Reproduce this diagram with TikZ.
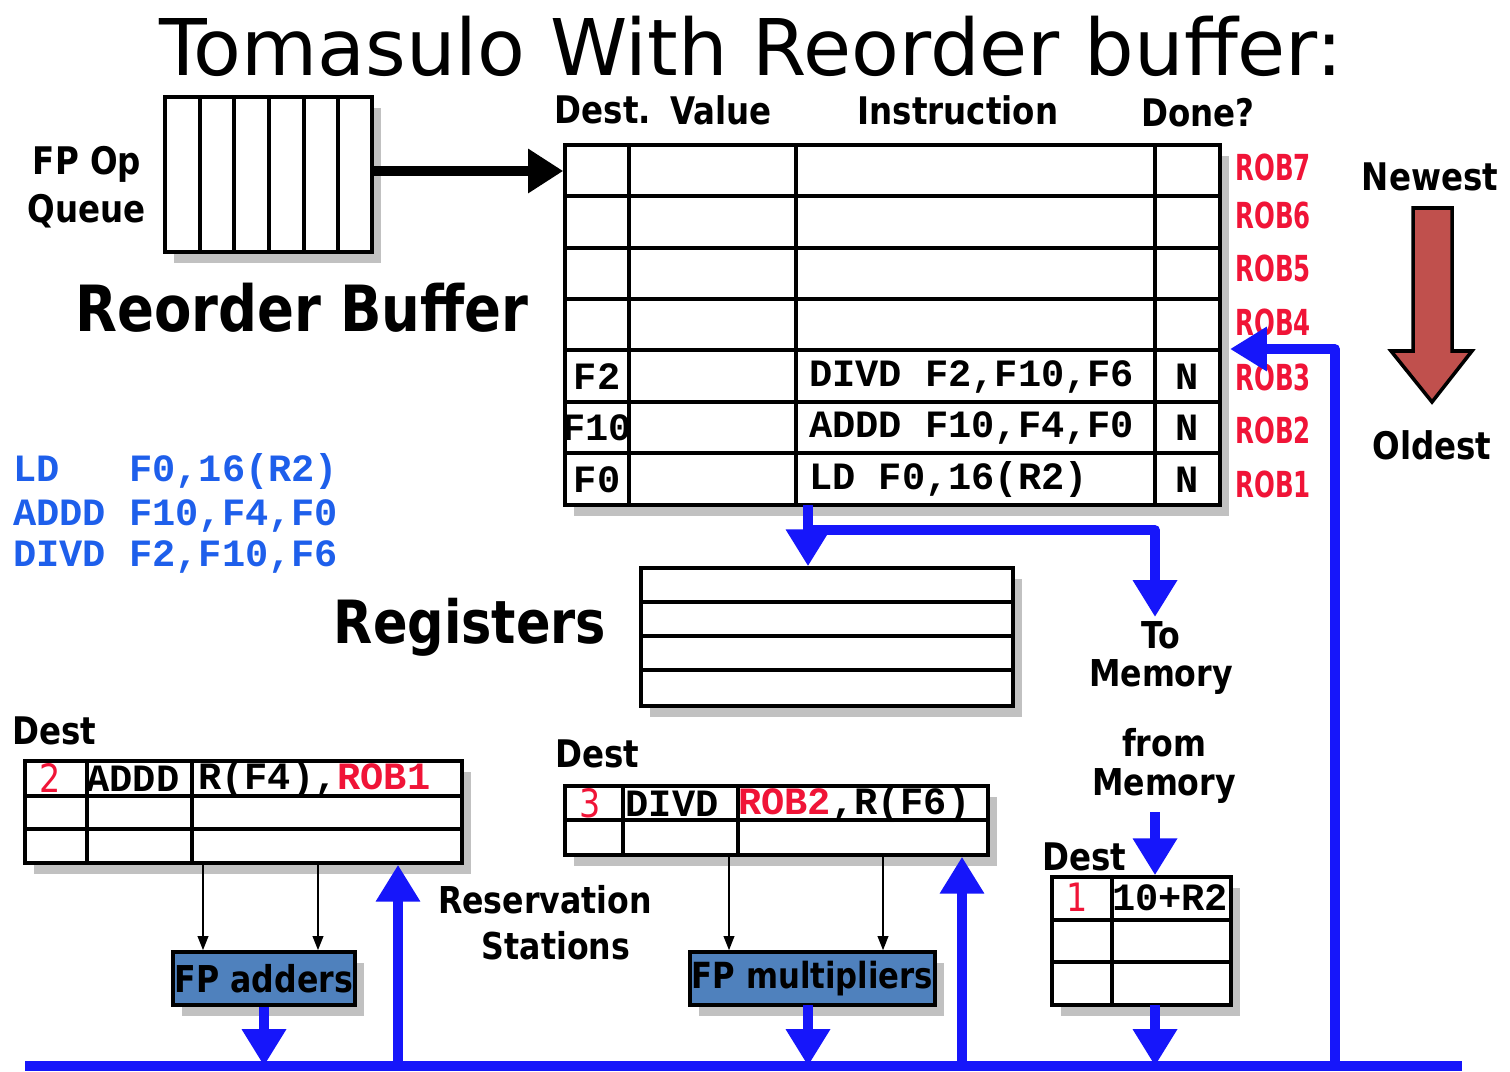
\documentclass[tikz,border=0pt]{standalone}
\usepackage{fontspec}
\setmainfont{DejaVu Sans}
\setmonofont{Liberation Mono}
\usetikzlibrary{arrows.meta,shadows,fit}
\definecolor{busblue}{RGB}{22,22,250}
\definecolor{codeblue}{RGB}{30,95,235}
\definecolor{robred}{RGB}{240,20,55}
\definecolor{unitblue}{RGB}{79,129,189}
\definecolor{arrowred}{RGB}{192,80,77}
\newcommand\lblsize{\fontsize{18.5}{20}\selectfont\bfseries}
\newcommand\monosz{\fontsize{22}{24}\selectfont\ttfamily\bfseries}
\newcommand\vs[1]{\scalebox{1}[1.17]{#1}}
\newcommand\rl[1]{\scalebox{0.82}[1.2]{#1}}
\begin{document}
\begin{tikzpicture}[x=0.02cm,y=-0.02cm,
  box/.style={draw=black, line width=2pt, fill=white, inner sep=0pt,
    drop shadow={shadow xshift=5pt, shadow yshift=-6pt, fill=black!30, opacity=0.8}},
  unitbox/.style={box, fill=unitblue},
  gridline/.style={line width=2pt},
  bluebus/.style={draw=busblue, line width=5.5pt},
  bluearrow/.style={bluebus, -{Triangle[width=24pt,length=21pt]}},
  blackarrow/.style={draw=black, line width=5.5pt, -{Triangle[width=24pt,length=20pt]}},
  thinarrow/.style={draw=black, line width=1.1pt, -{Triangle[width=6pt,length=8pt]}},
  lbl/.style={font=\lblsize, inner sep=0pt, align=center},
  biglbl/.style={font=\fontsize{31}{31}\selectfont\bfseries, inner sep=0pt},
  code/.style={font=\monosz, inner sep=0pt},
  robl/.style={font=\fontsize{17}{17}\selectfont\bfseries, text=robred, inner sep=0pt},
  redtxt/.style={font=\fontsize{19}{19}\selectfont, text=robred, inner sep=0pt}
]
\useasboundingbox (0,0) rectangle (1510,1071);

% title
\node[font=\fontsize{44.5}{44.5}\selectfont, inner sep=0pt] (title) at (751,46) {Tomasulo With Reorder buffer:};

% FP op queue
\node[box, fit={(165,97)(372,252)}] (queue) {};
\foreach \x in {200,234,269,304,338} \draw[gridline] (\x,97) -- (\x,252);
\node[lbl, font=\fontsize{18.5}{27}\selectfont\bfseries] (fpop) at (87,187) {\vs{FP Op}\\\vs{Queue}};
\node[biglbl] (rblabel) at (302,308) {\vs{Reorder Buffer}};

% Reorder buffer
\node[box, fit={(565,145)(1220,505)}] (rob) {};
\foreach \y in {196,248,299,350,402,453} \draw[gridline] (565,\y) -- (1220,\y);
\foreach \x in {629,796,1155} \draw[gridline] (\x,145) -- (\x,505);
\node[lbl] (hdest) at (603,110) {\vs{Dest.}};
\node[lbl] (hval) at (721,110) {\vs{Value}};
\node[lbl] (hinstr) at (958,110) {\vs{Instruction}};
\node[lbl] (hdone) at (1198,113) {\vs{Done?}};
\node[code] (d3) at (597,377) {F2};
\node[code] (d2) at (597,428) {F10};
\node[code] (d1) at (597,480) {F0};
\node[code, anchor=west] (i3) at (809,377) {DIVD F2,F10,F6};
\node[code, anchor=west] (i2) at (809,428) {ADDD F10,F4,F0};
\node[code, anchor=west] (i1) at (809,480) {LD F0,16(R2)};
\node[code] (n3) at (1187,377) {N};
\node[code] (n2) at (1187,428) {N};
\node[code] (n1) at (1187,480) {N};
\node[robl] (rob7) at (1273,167) {\rl{ROB7}};
\node[robl] (rob6) at (1273,215) {\rl{ROB6}};
\node[robl] (rob5) at (1273,268) {\rl{ROB5}};
\node[robl] (rob4) at (1273,322) {\rl{ROB4}};
\node[robl] (rob3) at (1273,377) {\rl{ROB3}};
\node[robl] (rob2) at (1273,430) {\rl{ROB2}};
\node[robl] (rob1) at (1273,484) {\rl{ROB1}};

% queue -> ROB
\coordinate (qout) at (372,171);
\draw[blackarrow] (qout) -- (qout -| rob.west);

% Newest / Oldest
\node[lbl] (newest) at (1430,177) {\vs{Newest}};
\node[lbl] (oldest) at (1432,445) {\vs{Oldest}};
\filldraw[fill=arrowred, draw=black, line width=2pt, line join=miter]
  (1413,208) -- (1452,208) -- (1452,351) -- (1472,351) -- (1432,402) -- (1391,351) -- (1413,351) -- cycle;

% instruction listing
\node[code, text=codeblue, anchor=west] (p1) at (13,472) {LD\ \ \ F0,16(R2)};
\node[code, text=codeblue, anchor=west] (p2) at (13,516) {ADDD F10,F4,F0};
\node[code, text=codeblue, anchor=west] (p3) at (13,557) {DIVD F2,F10,F6};

% Registers
\node[box, fit={(641,568)(1013,706)}] (regs) {};
\foreach \y in {602,636,670} \draw[gridline] (641,\y) -- (1013,\y);
\node[biglbl, font=\fontsize{29}{29}\selectfont\bfseries] (reglbl) at (470,627) {\vs{Registers}};
\node[lbl, font=\fontsize{18}{22}\selectfont\bfseries] (tomem) at (1161,658) {\vs{To}\\\vs{Memory}};
\node[lbl, font=\fontsize{18}{22}\selectfont\bfseries] (frommem) at (1164,766) {\vs{from}\\\vs{Memory}};

% Adder reservation stations
\node[lbl, anchor=west] (destA) at (12,731) {\vs{Dest}};
\node[box, fit={(25,761)(462,863)}] (rsA) {};
\foreach \y in {796,829} \draw[gridline] (25,\y) -- (462,\y);
\foreach \x in {87,192} \draw[gridline] (\x,761) -- (\x,863);
\node[redtxt] (rsA1) at (50,778) {\vs{2}};
\node[code] (rsA2) at (133,779) {ADDD};
\node[code, anchor=west] (rsA3) at (198,779) {R(F4),\textcolor{robred}{ROB1}};

% Multiplier reservation stations
\node[lbl, anchor=west] (destM) at (555,754) {\vs{Dest}};
\node[box, fit={(565,786)(988,855)}] (rsM) {};
\draw[gridline] (565,820) -- (988,820);
\foreach \x in {623,738} \draw[gridline] (\x,786) -- (\x,855);
\node[redtxt] (rsM1) at (590,803) {\vs{3}};
\node[code] (rsM2) at (672,804) {DIVD};
\node[code, anchor=west] (rsM3) at (738,804) {\textcolor{robred}{ROB2},R(F6)};

\node[lbl, font=\fontsize{18}{26}\selectfont\bfseries] (rslbl) at (545,923) {\vs{Reservation}\\\vs{\ \ Stations}};

% Load buffer
\node[lbl, anchor=west] (destL) at (1042,857) {\vs{Dest}};
\node[box, fit={(1052,877)(1231,1005)}] (lb) {};
\foreach \y in {920,962} \draw[gridline] (1052,\y) -- (1231,\y);
\draw[gridline] (1112,877) -- (1112,1005);
\node[redtxt] (lb1) at (1077,897) {\vs{1}};
\node[code] (lb2) at (1170,898) {10+R2};

% Functional units
\node[unitbox, fit={(173,952)(355,1005)}] (adders) {};
\node[lbl, font=\fontsize{18}{20}\selectfont\bfseries] (addlbl) at (adders.center) {\vs{FP adders}};
\node[unitbox, fit={(690,952)(935,1005)}] (mults) {};
\node[lbl, font=\fontsize{17.5}{20}\selectfont\bfseries] (mullbl) at (mults.center) {\vs{FP multipliers}};

% thin operand arrows
\coordinate (a1) at (203,863); \coordinate (a2) at (318,863);
\coordinate (m1) at (729,855); \coordinate (m2) at (883,855);
\draw[thinarrow] (a1) -- (a1 |- adders.north);
\draw[thinarrow] (a2) -- (a2 |- adders.north);
\draw[thinarrow] (m1) -- (m1 |- mults.north);
\draw[thinarrow] (m2) -- (m2 |- mults.north);

% blue data paths
\coordinate (busL) at (25,1066);
\coordinate (busR) at (1462,1066);
\draw[bluebus] (busL) -- (busR);

\coordinate (tap) at (808,505);
\coordinate (split) at (808,530);
\coordinate (memturn) at (1155,530);
\coordinate (memout) at (1155,617);
\draw[bluearrow] (tap) -- (tap |- regs.north);
\draw[bluearrow, line join=round] (split) -- (memturn) -- (memout);

\coordinate (fromtop) at (1155,812);
\draw[bluearrow] (fromtop) -- (fromtop |- lb.north);
\coordinate (lbout) at (1155,1005);
\draw[bluearrow] (lbout) -- (lbout |- busL);

\draw[bluearrow] (adders.south) -- (adders.south |- busL);
\coordinate (mout) at (808,1005);
\draw[bluearrow] (mout) -- (mout |- busL);

\coordinate (busA) at (398,1066);
\draw[bluearrow] (busA) -- (busA |- rsA.south);
\coordinate (busM) at (962,1066);
\draw[bluearrow] (busM) -- (busM |- rsM.south);

\coordinate (busROB) at (1335,1066);
\coordinate (robcorner) at (1335,349);
\coordinate (robin) at (1230,349);
\draw[bluearrow, line join=round] (busROB) -- (robcorner) -- (robin);
\end{tikzpicture}
\end{document}
